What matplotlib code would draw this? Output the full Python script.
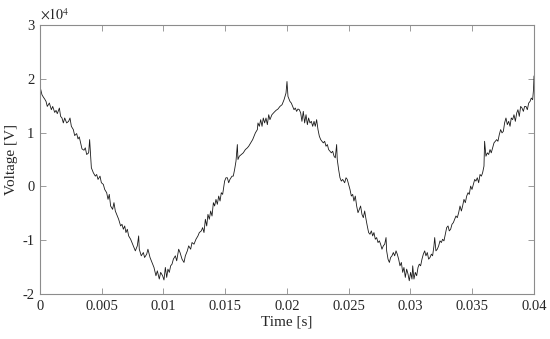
import numpy as np
import matplotlib
matplotlib.use('Agg')
import matplotlib.pyplot as plt
from matplotlib.ticker import FuncFormatter

# Values (time in s, voltage in V)
time_s = [
    0.0, 0.000054, 0.00016, 0.00027, 0.00038, 0.00049, 0.00059, 0.00076, 0.00092, 0.00103,
    0.00119, 0.00130, 0.00140, 0.00157, 0.00167, 0.00178, 0.00189, 0.00200, 0.00216, 0.00232,
    0.00243, 0.00254, 0.00270, 0.00281, 0.00297, 0.00308, 0.00318, 0.00329, 0.00340, 0.00356,
    0.00367, 0.00378, 0.00394, 0.00402, 0.00410, 0.00416, 0.00432, 0.00448, 0.00459, 0.00470,
    0.00486, 0.00497, 0.00513, 0.00524, 0.00540, 0.00551, 0.00561, 0.00572, 0.00588, 0.00599,
    0.00610, 0.00626, 0.00637, 0.00653, 0.00664, 0.00675, 0.00686, 0.00696, 0.00707, 0.00718,
    0.00734, 0.00745, 0.00761, 0.00772, 0.00788, 0.00799, 0.00804, 0.00820, 0.00837, 0.00847,
    0.00864, 0.00874, 0.00891, 0.00907, 0.00923, 0.00939, 0.00950, 0.00966, 0.00977, 0.00993,
    0.01004, 0.01015, 0.01026, 0.01036, 0.01047, 0.01058, 0.01069, 0.01080, 0.01096, 0.01107,
    0.01123, 0.01134, 0.01150, 0.01166, 0.01177, 0.01193, 0.01204, 0.01220, 0.01231, 0.01247,
    0.01263, 0.01279, 0.01290, 0.01306, 0.01317, 0.01328, 0.01339, 0.01350, 0.01360, 0.01371,
    0.01382, 0.01393, 0.01404, 0.01414, 0.01425, 0.01436, 0.01447, 0.01458, 0.01468, 0.01479,
    0.01495, 0.01506, 0.01517, 0.01528, 0.01538, 0.01555, 0.01565, 0.01576, 0.01587, 0.01598,
    0.01603, 0.01614, 0.01630, 0.01646, 0.01663, 0.01679, 0.01690, 0.01706, 0.01722, 0.01733,
    0.01744, 0.01760, 0.01765, 0.01776, 0.01787, 0.01798, 0.01808, 0.01819, 0.01830, 0.01841,
    0.01852, 0.01862, 0.01878, 0.01895, 0.01911, 0.01927, 0.01943, 0.01960, 0.01976, 0.01992,
    0.02000, 0.02008, 0.02013, 0.02024, 0.02035, 0.02046, 0.02057, 0.02067, 0.02078, 0.02089,
    0.02100, 0.02111, 0.02121, 0.02132, 0.02143, 0.02154, 0.02165, 0.02175, 0.02186, 0.02197,
    0.02208, 0.02219, 0.02229, 0.02240, 0.02251, 0.02262, 0.02273, 0.02283, 0.02294, 0.02305,
    0.02316, 0.02327, 0.02337, 0.02348, 0.02359, 0.02370, 0.02381, 0.02391, 0.02402, 0.02407,
    0.02418, 0.02429, 0.02440, 0.02451, 0.02467, 0.02478, 0.02488, 0.02499, 0.02510, 0.02521,
    0.02532, 0.02542, 0.02553, 0.02564, 0.02575, 0.02586, 0.02596, 0.02607, 0.02618, 0.02629,
    0.02640, 0.02650, 0.02661, 0.02672, 0.02683, 0.02694, 0.02704, 0.02715, 0.02726, 0.02737,
    0.02748, 0.02758, 0.02769, 0.02780, 0.02791, 0.02802, 0.02807, 0.02818, 0.02829, 0.02839,
    0.02850, 0.02861, 0.02872, 0.02883, 0.02893, 0.02904, 0.02915, 0.02926, 0.02937, 0.02947,
    0.02958, 0.02969, 0.02980, 0.02990, 0.03001, 0.03012, 0.03018, 0.03028, 0.03039, 0.03050,
    0.03061, 0.03071, 0.03082, 0.03093, 0.03104, 0.03115, 0.03125, 0.03136, 0.03147, 0.03158,
    0.03169, 0.03179, 0.03190, 0.03196, 0.03206, 0.03217, 0.03228, 0.03239, 0.03250, 0.03260,
    0.03271, 0.03282, 0.03293, 0.03304, 0.03314, 0.03325, 0.03336, 0.03347, 0.03358, 0.03368,
    0.03379, 0.03390, 0.03401, 0.03412, 0.03422, 0.03433, 0.03444, 0.03455, 0.03466, 0.03476,
    0.03487, 0.03498, 0.03509, 0.03520, 0.03530, 0.03541, 0.03552, 0.03563, 0.03574, 0.03584,
    0.03595, 0.03600, 0.03611, 0.03622, 0.03633, 0.03644, 0.03654, 0.03665, 0.03676, 0.03687,
    0.03698, 0.03708, 0.03719, 0.03730, 0.03741, 0.03752, 0.03762, 0.03773, 0.03784, 0.03795,
    0.03806, 0.03816, 0.03827, 0.03838, 0.03849, 0.03860, 0.03870, 0.03881, 0.03892, 0.03903,
    0.03914, 0.03924, 0.03935, 0.03946, 0.03957, 0.03968, 0.03978, 0.03989, 0.03996, 0.04000,
]

voltage_v = [
    18600, 18090, 17040, 16610, 16240, 15800, 14870, 15500, 14260, 14870,
    13760, 14130, 13520, 14570, 13020, 12720, 11800, 12720, 11800, 12100,
    12720, 11170, 10560, 9450, 9820, 8830, 9200, 8090, 6980, 6730,
    7170, 5930, 6240, 8700, 5610, 3460, 2540, 1910, 2220, 1300,
    1910, 690, 370, -560, -1170, -2410, -1480, -3640, -4260, -3020,
    -4570, -5500, -6110, -7350, -7040, -7960, -7350, -8580, -7960, -9200,
    -9820, -10430, -11360, -11980, -11050, -9200, -11670, -12900, -12290, -13210,
    -12590, -11670, -13210, -14130, -15060, -16610, -15690, -17220, -15980, -16610,
    -17400, -15060, -16910, -15370, -15980, -14760, -14450, -13520, -12900, -13830,
    -11670, -12290, -13520, -14130, -12900, -11980, -11050, -11670, -10430, -10740,
    -9820, -9200, -8580, -8270, -7660, -8580, -6110, -7350, -5190, -6110,
    -4570, -5500, -3020, -3640, -2410, -3330, -1790, -2720, -1170, -1480,
    990, 1610, 1610, 680, 1300, 1910, 1910, 3150, 4690, 7780,
    5000, 5610, 5930, 6240, 6850, 7170, 7470, 8090, 8700, 9320,
    9950, 10560, 11800, 11170, 12410, 11170, 12720, 11800, 12720, 11480,
    13330, 12410, 13330, 13760, 14130, 14390, 14870, 15190, 16110, 17350,
    19500, 16720, 16420, 15800, 15490, 14870, 14260, 14570, 13950, 14390,
    14260, 13640, 12100, 13950, 11800, 13330, 11480, 12720, 11800, 12100,
    11170, 12100, 11170, 12410, 10560, 9320, 8700, 8390, 8090, 8390,
    7470, 7780, 6850, 6540, 6240, 6540, 5610, 5310, 7780, 5000,
    3150, 1610, 990, 1300, 680, 1610, 1300, 370, -560, -1790,
    -1480, -2720, -1790, -3640, -4880, -4260, -3640, -5190, -5810, -4570,
    -6110, -7350, -8580, -8890, -8270, -9200, -8580, -9820, -9510, -10430,
    -10120, -10740, -11670, -11050, -10740, -9510, -11980, -13520, -14130, -13210,
    -12900, -12290, -12900, -11980, -12590, -13520, -14760, -14130, -15980, -15060,
    -16910, -15370, -16300, -17530, -15980, -17220, -14760, -17220, -15980, -16610,
    -15060, -14450, -14760, -13520, -12590, -11980, -12900, -12290, -13520, -13210,
    -12590, -12900, -11050, -9510, -11980, -11670, -11050, -10120, -10430, -9820,
    -10120, -8890, -7660, -7350, -8270, -7960, -7040, -6730, -6110, -5500,
    -5810, -4880, -3640, -4570, -3640, -2410, -3020, -1790, -1170, -1480,
    60, -560, 370, 1300, 990, 1610, 680, 2220, 1910, 2540,
    3770, 8390, 5610, 6240, 5930, 6850, 6240, 7170, 8090, 8390,
    8700, 8390, 9630, 10560, 9950, 10250, 11800, 12720, 11480, 12100,
    11170, 12720, 12410, 13330, 12100, 13640, 14260, 13020, 14870, 14570,
    13950, 14870, 14870, 14260, 15490, 15800, 16420, 16110, 17960, 20500,
]

x_ticks = [0, 0.005, 0.01, 0.015, 0.02, 0.025, 0.03, 0.035, 0.04]
x_tick_labels = ['0', '0.005', '0.01', '0.015', '0.02', '0.025', '0.03', '0.035', '0.04']
y_ticks = [-20000, -10000, 0, 10000, 20000, 30000]

plt.rcParams['font.family'] = ['Liberation Serif', 'DejaVu Serif']
plt.rcParams['mathtext.fontset'] = 'stix'

axis_grey = '#8c8c8c'
text_grey = '#262626'

fig = plt.figure(figsize=(5.5, 3.39), dpi=100)
ax = fig.add_axes([0.0727, 0.1327, 0.8982, 0.7935])

ax.plot(time_s, voltage_v, color='#1a1a1a', linewidth=0.6)

ax.set_xlim(0, 0.04)
ax.set_ylim(-20000, 30000)
ax.set_xticks(x_ticks)
ax.set_xticklabels(x_tick_labels)
ax.set_yticks(y_ticks)
ax.yaxis.set_major_formatter(FuncFormatter(lambda v, pos: f'{v / 1e4:g}'))

for side in ax.spines.values():
    side.set_color(axis_grey)
    side.set_linewidth(0.8)
ax.tick_params(direction='in', length=4, width=0.6, color=axis_grey,
               labelcolor=text_grey, labelsize=10.5, top=True, right=True, pad=4)

ax.set_xlabel('Time [s]', fontsize=11, color=text_grey, labelpad=2)
ax.set_ylabel('Voltage [V]', fontsize=11, color=text_grey, labelpad=3)
ax.text(0.0, 1.01, r'$\times10^{4}$', transform=ax.transAxes, fontsize=10,
        color=text_grey, ha='left', va='bottom')

fig.savefig('out.png', dpi=100)
